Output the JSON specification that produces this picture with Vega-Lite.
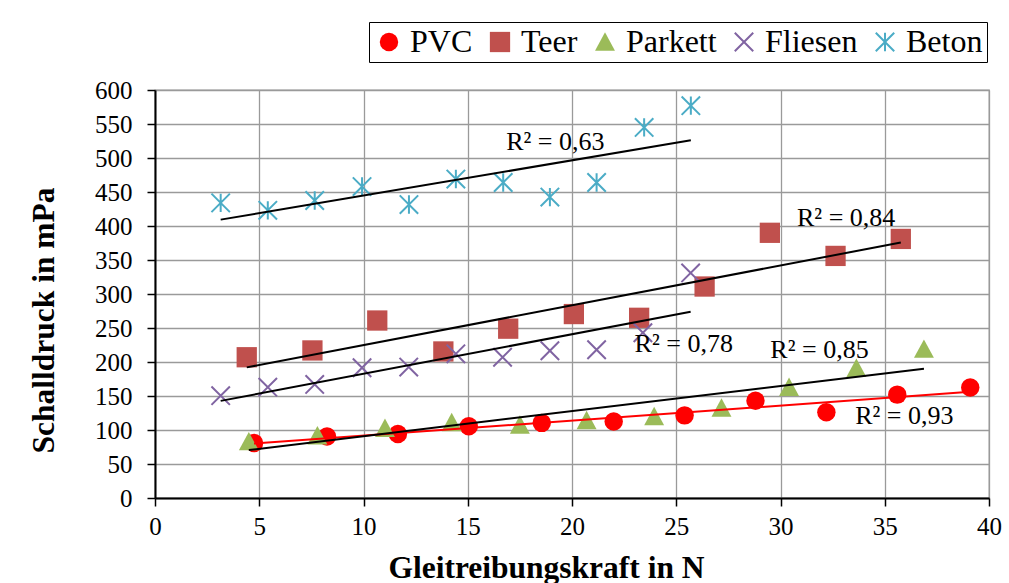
{
  "$schema": "https://vega.github.io/schema/vega-lite/v6.json",
  "width": 834,
  "height": 408,
  "autosize": {"type": "none"},
  "padding": {"left": 155, "top": 90, "right": 20, "bottom": 85},
  "background": "white",
  "config": {
    "font": "Liberation Serif",
    "view": {"stroke": "#9a9a9a", "strokeWidth": 1.3},
    "axis": {
      "labelFont": "Liberation Serif", "labelFontSize": 25, "labelColor": "black",
      "titleFont": "Liberation Serif", "titleFontSize": 31.5, "titleFontWeight": "bold", "titleColor": "black",
      "grid": true, "gridColor": "#9a9a9a", "gridWidth": 1.3,
      "domainColor": "black", "domainWidth": 2,
      "tickColor": "black", "tickWidth": 1.5, "tickSize": 8,
      "labelFlush": false, "labelOverlap": false
    },
    "legend": {
      "orient": "none",
      "legendX": 214,
      "legendY": -68,
      "direction": "horizontal",
      "strokeColor": "black",
      "padding": 4,
      "labelFont": "Liberation Serif",
      "labelFontSize": 32,
      "labelColor": "black",
      "labelOffset": 5,
      "columnPadding": 11,
      "symbolSize": 340,
      "symbolStrokeWidth": 2,
      "labelLimit": 0
    }
  },
  "datasets": {
    "pts": [
      {"Material": "PVC", "x": 4.75, "y": 81},
      {"Material": "PVC", "x": 8.25, "y": 90.5},
      {"Material": "PVC", "x": 11.65, "y": 94},
      {"Material": "PVC", "x": 15.05, "y": 105.5},
      {"Material": "PVC", "x": 18.55, "y": 110.5},
      {"Material": "PVC", "x": 22.0, "y": 112.5},
      {"Material": "PVC", "x": 25.4, "y": 121.5},
      {"Material": "PVC", "x": 28.8, "y": 143},
      {"Material": "PVC", "x": 32.2, "y": 126},
      {"Material": "PVC", "x": 35.6, "y": 152},
      {"Material": "PVC", "x": 39.1, "y": 162.5},
      {"Material": "Teer", "x": 4.4, "y": 207},
      {"Material": "Teer", "x": 7.55, "y": 217},
      {"Material": "Teer", "x": 10.66, "y": 261},
      {"Material": "Teer", "x": 13.83, "y": 215.5},
      {"Material": "Teer", "x": 16.94, "y": 249},
      {"Material": "Teer", "x": 20.09, "y": 270.5},
      {"Material": "Teer", "x": 23.22, "y": 265},
      {"Material": "Teer", "x": 26.36, "y": 311},
      {"Material": "Teer", "x": 29.49, "y": 390},
      {"Material": "Teer", "x": 32.64, "y": 356},
      {"Material": "Teer", "x": 35.77, "y": 381},
      {"Material": "Parkett", "x": 4.5, "y": 83},
      {"Material": "Parkett", "x": 7.79, "y": 91.5},
      {"Material": "Parkett", "x": 11.03, "y": 102.5},
      {"Material": "Parkett", "x": 14.23, "y": 111},
      {"Material": "Parkett", "x": 17.5, "y": 107.5},
      {"Material": "Parkett", "x": 20.7, "y": 114},
      {"Material": "Parkett", "x": 23.94, "y": 120},
      {"Material": "Parkett", "x": 27.17, "y": 132.5},
      {"Material": "Parkett", "x": 30.41, "y": 163},
      {"Material": "Parkett", "x": 33.64, "y": 191},
      {"Material": "Parkett", "x": 36.88, "y": 219},
      {"Material": "Fliesen", "x": 3.15, "y": 150.5},
      {"Material": "Fliesen", "x": 5.41, "y": 163},
      {"Material": "Fliesen", "x": 7.66, "y": 167},
      {"Material": "Fliesen", "x": 9.93, "y": 191.5},
      {"Material": "Fliesen", "x": 12.17, "y": 192.5},
      {"Material": "Fliesen", "x": 14.43, "y": 212},
      {"Material": "Fliesen", "x": 16.67, "y": 207},
      {"Material": "Fliesen", "x": 18.94, "y": 216.5},
      {"Material": "Fliesen", "x": 21.18, "y": 218},
      {"Material": "Fliesen", "x": 23.4, "y": 243},
      {"Material": "Fliesen", "x": 25.69, "y": 331},
      {"Material": "Beton", "x": 3.15, "y": 434},
      {"Material": "Beton", "x": 5.41, "y": 423},
      {"Material": "Beton", "x": 7.66, "y": 437.5},
      {"Material": "Beton", "x": 9.93, "y": 458},
      {"Material": "Beton", "x": 12.18, "y": 431.5},
      {"Material": "Beton", "x": 14.43, "y": 469},
      {"Material": "Beton", "x": 16.7, "y": 464},
      {"Material": "Beton", "x": 18.94, "y": 442.5},
      {"Material": "Beton", "x": 21.18, "y": 464},
      {"Material": "Beton", "x": 23.46, "y": 545},
      {"Material": "Beton", "x": 25.7, "y": 577}
    ],
    "labels": [
      {"label": "R² = 0,63", "x": 19.2, "y": 524},
      {"label": "R² = 0,84", "x": 33.15, "y": 411.8},
      {"label": "R² = 0,78", "x": 25.36, "y": 225.9},
      {"label": "R² = 0,85", "x": 31.87, "y": 217},
      {"label": "R² = 0,93", "x": 35.94, "y": 120.6}
    ]
  },
  "encoding": {
    "x": {
      "field": "x", "type": "quantitative",
      "scale": {"domain": [0, 40], "nice": false, "zero": false},
      "axis": {
        "values": [0, 5, 10, 15, 20, 25, 30, 35, 40],
        "tickCount": 9,
        "labelPadding": 8,
        "title": "Gleitreibungskraft in N",
        "titleX": 391, "titleY": 79, "titleBaseline": "alphabetic", "titleAlign": "center"
      }
    },
    "y": {
      "field": "y", "type": "quantitative",
      "scale": {"domain": [0, 600], "nice": false},
      "axis": {
        "values": [0, 50, 100, 150, 200, 250, 300, 350, 400, 450, 500, 550, 600],
        "tickCount": 13,
        "labelPadding": 15,
        "title": "Schalldruck  in mPa",
        "titleAngle": -90, "titleX": -101.5, "titleY": 230, "titleBaseline": "alphabetic", "titleAlign": "center"
      }
    }
  },
  "layer": [
    {
      "data": {"name": "pts"},
      "mark": {"type": "point", "strokeWidth": 2, "opacity": 1, "fillOpacity": 1, "strokeOpacity": 1, "size": 340},
      "encoding": {
        "shape": {
          "field": "Material", "type": "nominal", "title": null,
          "scale": {
            "domain": ["PVC", "Teer", "Parkett", "Fliesen", "Beton"],
            "range": ["circle", "M-1.1,-1.1L1.1,-1.1L1.1,1.1L-1.1,1.1Z", "M0,-1.05L1.08,0.95L-1.08,0.95Z", "M-1,-1L1,1M-1,1L1,-1", "M-1,-1L1,1M-1,1L1,-1M0,-1L0,1"]
          }
        },
        "fill": {
          "field": "Material", "type": "nominal", "title": null,
          "scale": {
            "domain": ["PVC", "Teer", "Parkett", "Fliesen", "Beton"],
            "range": ["#FF0000", "#C0504D", "#9BBB59", "transparent", "transparent"]
          }
        },
        "stroke": {
          "field": "Material", "type": "nominal", "title": null,
          "scale": {
            "domain": ["PVC", "Teer", "Parkett", "Fliesen", "Beton"],
            "range": ["transparent", "transparent", "transparent", "#8064A2", "#4BACC6"]
          }
        }
      }
    },
    {
      "data": {"name": "pts"},
      "transform": [{"regression": "y", "on": "x", "groupby": ["Material"]}],
      "mark": {"type": "line", "strokeWidth": 2},
      "encoding": {
        "detail": {"field": "Material", "type": "nominal"},
        "color": {"condition": {"test": "datum.Material === 'PVC'", "value": "#FF0000"}, "value": "black"}
      }
    },
    {
      "data": {"name": "labels"},
      "mark": {"type": "text", "font": "Liberation Serif", "fontSize": 26, "align": "center", "baseline": "middle", "color": "black"},
      "encoding": {
        "text": {"field": "label"}
      }
    }
  ]
}
